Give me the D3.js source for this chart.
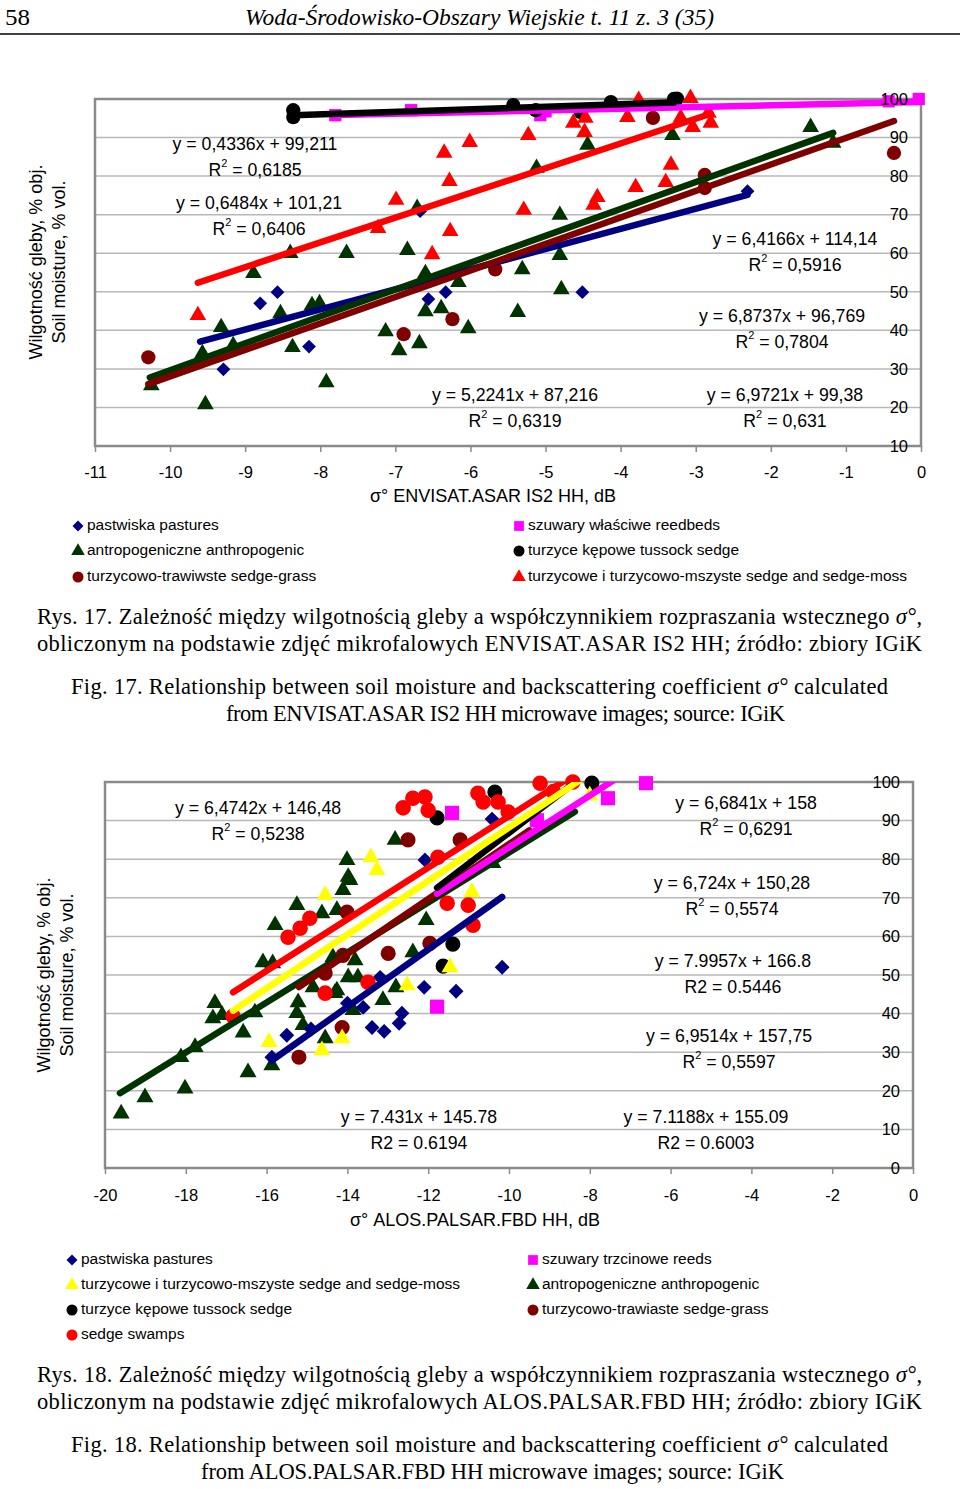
<!DOCTYPE html>
<html>
<head>
<meta charset="utf-8">
<script src="https://cdn.jsdelivr.net/npm/d3@7"></script>
<style>
  body { margin: 0; background: #fff; }
  svg text { font-family: "Liberation Sans", Arial, sans-serif; fill: #000; }
  svg text.serif { font-family: "Liberation Serif", "Times New Roman", serif; }
</style>
</head>
<body>
<svg id="page" width="960" height="1489"></svg>
<script>
// ---------- Fig. 17 (ENVISAT) data: [sigma0 dB, soil moisture %] ----------
const topXTicks = [-11, -10, -9, -8, -7, -6, -5, -4, -3, -2, -1, 0];
const topYTicks = [10, 20, 30, 40, 50, 60, 70, 80, 90, 100];

const topPastures = [
  [-8.8, 47.0], [-8.57, 49.9], [-9.29, 29.9], [-8.15, 35.8], [-6.56, 48.1],
  [-6.33, 49.9], [-4.51, 49.9], [-6.67, 70.9], [-2.31, 76.1]
];
const topAnthropogenic = [
  [-8.4, 60.0], [-7.65, 60.0], [-6.84, 60.8], [-6.71, 71.7], [-8.89, 54.8],
  [-9.32, 40.8], [-9.57, 34.0], [-9.16, 36.1], [-8.53, 44.4], [-8.37, 35.6],
  [-8.11, 46.5], [-8.01, 47.0], [-7.92, 26.5], [-10.25, 25.7], [-9.53, 20.8],
  [-7.13, 39.7], [-6.95, 34.8], [-6.68, 36.6], [-6.6, 44.9], [-6.39, 45.7],
  [-6.6, 54.8], [-6.16, 52.5], [-6.03, 40.5], [-5.31, 55.8], [-4.81, 59.5],
  [-4.79, 50.6], [-5.37, 44.7], [-5.12, 82.1], [-4.81, 69.9], [-4.44, 88.1],
  [-3.31, 90.6], [-1.47, 92.7], [-1.17, 88.6]
];
const topSedgeGrass = [
  [-10.29, 33.0], [-6.89, 39.0], [-6.24, 42.9], [-5.67, 55.8], [-2.88, 80.3],
  [-2.88, 76.9], [-3.57, 95.1], [-0.36, 86.0]
];
const topReedbeds = [
  [-7.8, 95.8], [-6.79, 97.1], [-5.07, 95.8], [-5.0, 96.8], [-0.43, 99.4], [-0.03, 100.0]
];
const topTussock = [
  [-8.36, 97.1], [-8.36, 95.3], [-5.43, 98.4], [-5.13, 97.1], [-4.53, 96.6],
  [-4.13, 99.2], [-3.29, 100.0], [-3.25, 100.1]
];
const topSedgeMoss = [
  [-6.01, 88.8], [-6.35, 86.0], [-6.28, 78.7], [-6.99, 73.8], [-7.23, 66.5],
  [-6.27, 65.7], [-6.51, 59.7], [-9.63, 43.9], [-5.23, 90.6], [-5.29, 71.2],
  [-4.63, 93.8], [-4.47, 95.1], [-4.48, 91.4], [-3.91, 95.3], [-3.76, 99.7],
  [-3.2, 95.1], [-3.07, 100.2], [-3.04, 92.7], [-2.8, 93.8], [-2.83, 96.4],
  [-4.31, 74.5], [-4.36, 72.5], [-3.8, 77.1], [-3.4, 78.4], [-3.33, 82.9]
];

// trendlines: slope, intercept, x-range (same order as topSeriesNames)
const topSeriesNames = ["pastures", "anthropogenic", "sedgeGrass", "reedbeds", "tussock", "sedgeMoss"];
const topTrendSlope = [5.2241, 6.9721, 6.8737, 0.4336, 0.6484, 6.4166];
const topTrendIntercept = [87.216, 99.38, 96.769, 99.211, 101.21, 114.14];
const topTrendFrom = [-9.6, -10.27, -10.29, -7.8, -8.36, -9.63];
const topTrendTo = [-2.31, -1.17, -0.36, -0.03, -3.29, -2.8];

const topEquations = [
  ["y = 0,4336x + 99,211", "0,6185"],
  ["y = 0,6484x + 101,21", "0,6406"],
  ["y = 6,4166x + 114,14", "0,5916"],
  ["y = 6,8737x + 96,769", "0,7804"],
  ["y = 5,2241x + 87,216", "0,6319"],
  ["y = 6,9721x + 99,38", "0,631"]
];

// ---------- Fig. 18 (ALOS PALSAR) data ----------
const botXTicks = [-20, -18, -16, -14, -12, -10, -8, -6, -4, -2, 0];
const botYTicks = [0, 10, 20, 30, 40, 50, 60, 70, 80, 90, 100];

const botPastures = [
  [-10.17, 52.0], [-12.1, 46.8], [-11.31, 45.8], [-12.65, 40.1], [-12.72, 37.5],
  [-13.39, 36.4], [-13.09, 35.4], [-13.61, 41.6], [-13.19, 49.4], [-15.5, 34.4],
  [-15.87, 28.7], [-14.0, 42.7], [-10.42, 90.4], [-12.08, 79.8], [-14.9, 36.0]
];
const botSedgeMoss = [
  [-13.42, 80.5], [-13.27, 77.2], [-14.55, 70.7], [-10.92, 71.5], [-12.52, 47.3],
  [-15.94, 32.6], [-14.63, 30.5], [-14.13, 33.6], [-11.46, 52.0], [-8.0, 96.5]
];
const botTussock = [
  [-10.35, 97.4], [-11.78, 90.7], [-11.39, 58.0], [-11.63, 52.3], [-7.95, 99.7]
];
const botSedgeSwamps = [
  [-12.62, 93.3], [-12.38, 95.8], [-12.08, 96.1], [-12.0, 92.7], [-10.77, 97.1],
  [-10.64, 94.8], [-10.27, 94.8], [-10.02, 92.2], [-11.76, 80.5], [-14.93, 64.7],
  [-15.17, 62.1], [-15.47, 59.8], [-11.53, 68.6], [-11.01, 68.1], [-10.89, 62.9],
  [-9.23, 99.7], [-8.42, 100.0], [-14.55, 45.3], [-13.49, 48.1], [-16.83, 39.3],
  [-8.9, 97.5]
];
const botReeds = [
  [-11.78, 41.8], [-11.41, 92.0], [-7.55, 95.8], [-6.61, 99.7], [-9.31, 90.1]
];
const botAnthropogenic = [
  [-19.6, 14.1], [-19.01, 18.3], [-18.02, 20.6], [-18.12, 28.7], [-17.77, 31.3],
  [-17.33, 38.8], [-17.28, 42.7], [-17.1, 39.6], [-16.58, 35.1], [-16.46, 24.8],
  [-15.87, 26.6], [-16.09, 53.3], [-16.29, 40.3], [-15.22, 42.9], [-15.25, 40.1],
  [-15.1, 37.0], [-14.55, 33.6], [-14.85, 46.8], [-14.31, 45.3], [-13.98, 49.4],
  [-13.74, 49.4], [-13.81, 53.8], [-13.12, 43.5], [-12.8, 46.8], [-13.86, 40.9],
  [-14.36, 54.6], [-14.26, 46.0], [-15.79, 62.9], [-15.25, 68.1], [-14.63, 66.0],
  [-14.26, 66.8], [-14.11, 72.0], [-13.94, 74.6], [-14.01, 79.8], [-13.98, 75.4],
  [-12.82, 85.0], [-12.38, 55.9], [-12.05, 64.2], [-10.4, 79.0], [-15.85, 53.0]
];
const botSedgeGrass = [
  [-12.5, 85.0], [-11.21, 85.0], [-14.01, 66.3], [-12.99, 55.6], [-11.96, 58.2],
  [-14.13, 36.4], [-15.2, 28.7], [-14.55, 50.5], [-14.11, 55.1]
];

const botSeriesNames = ["anthropogenic", "pastures", "sedgeGrass", "reeds", "tussock", "sedgeMoss", "sedgeSwamps"];
const botTrendSlope = [6.4742, 7.431, 7.1188, 6.724, 7.9957, 6.9514, 6.6841];
const botTrendIntercept = [146.48, 145.78, 155.09, 150.28, 166.8, 157.75, 158];
const botTrendFrom = [-19.63, -15.87, -15.2, -11.78, -11.78, -16.83, -16.83];
const botTrendTo = [-8.37, -10.17, -9.5, -6.61, -7.95, -8.0, -8.42];

const botEquations = [
  ["y = 6,4742x + 146,48", "0,5238", true],
  ["y = 6,6841x + 158", "0,6291", true],
  ["y = 6,724x + 150,28", "0,5574", true],
  ["y = 7.9957x + 166.8", "0.5446", false],
  ["y = 6,9514x + 157,75", "0,5597", true],
  ["y = 7.431x + 145.78", "0.6194", false],
  ["y = 7.1188x + 155.09", "0.6003", false]
];

// ---------- styles ----------
const NAVY = "#000080", DKGREEN = "#003300", MAROON = "#800000",
      MAGENTA = "#ff00ff", BLACK = "#000000", RED = "#ff0000", YELLOW = "#ffff00";

const svg = d3.select("#page");

function markerPath(shape, size) {
  if (shape === "diamond") return d3.symbol(d3.symbolSquare, size)();
  if (shape === "triangle") return d3.symbol(d3.symbolTriangle, size)();
  if (shape === "square") return d3.symbol(d3.symbolSquare, size)();
  return d3.symbol(d3.symbolCircle, size)();
}

function drawMarkers(g, data, x, y, shape, color, size) {
  g.selectAll(null)
    .data(data)
    .enter()
    .append("path")
    .attr("d", markerPath(shape, size))
    .attr("transform", d => `translate(${x(d[0])},${y(d[1])})` + (shape === "diamond" ? " rotate(45)" : ""))
    .attr("fill", color);
}

function drawTrend(g, slope, intercept, from, to, x, y, color) {
  const pts = [from, to].map(v => [v, slope * v + intercept]);
  g.append("path")
    .datum(pts)
    .attr("fill", "none")
    .attr("stroke", color)
    .attr("stroke-width", 6.5)
    .attr("stroke-linecap", "round")
    .attr("d", d3.line().x(d => x(d[0])).y(d => y(d[1])));
}

function equationLabel(cx, cy, eq, r2, sup) {
  svg.append("text")
    .attr("x", cx).attr("y", cy)
    .attr("text-anchor", "middle")
    .attr("dominant-baseline", "middle")
    .style("font-size", "17.7px")
    .text(eq);
  const t = svg.append("text")
    .attr("x", cx).attr("y", cy + 26)
    .attr("text-anchor", "middle")
    .attr("dominant-baseline", "middle")
    .style("font-size", "17.7px");
  if (sup) {
    t.append("tspan").text("R");
    t.append("tspan").attr("dy", -7).style("font-size", "11px").text("2");
    t.append("tspan").attr("dy", 7).text(" = " + r2);
  } else {
    t.text("R2 = " + r2);
  }
}

function drawFrame(x, y, yTicks, box) {
  const g = svg.append("g");
  // gridlines
  g.selectAll(null)
    .data(yTicks.filter(d => d !== y.domain()[0] && d !== y.domain()[1]))
    .enter()
    .append("line")
    .attr("x1", box.left).attr("x2", box.right)
    .attr("y1", d => y(d)).attr("y2", d => y(d))
    .attr("stroke", "#b8b8b8")
    .attr("stroke-width", 1.5);
  g.append("rect")
    .attr("x", box.left).attr("y", box.top)
    .attr("width", box.right - box.left).attr("height", box.bottom - box.top)
    .attr("fill", "none")
    .attr("stroke", "#8a8a8a")
    .attr("stroke-width", 2.5);
}

function drawAxes(x, y, xTicks, yTicks, box, labelPad) {
  // x axis
  const xa = svg.append("g")
    .attr("transform", `translate(0,${box.bottom})`)
    .call(d3.axisBottom(x).tickValues(xTicks).tickSize(6).tickPadding(labelPad).tickFormat(d => String(d)));
  xa.select(".domain").remove();
  xa.selectAll("line").attr("stroke", "#8a8a8a").attr("stroke-width", 1.5);
  xa.selectAll("text").style("font-size", "16.5px").attr("fill", "#000");

  // y axis labels on the right, inside the plot
  const ya = svg.append("g")
    .attr("transform", `translate(${box.right},0)`)
    .call(d3.axisLeft(y).tickValues(yTicks).tickSize(0).tickPadding(13).tickFormat(d => String(d)));
  ya.select(".domain").remove();
  ya.selectAll("text").style("font-size", "16.5px").attr("fill", "#000");
}

function legendItem(mx, ty, shape, color, label, size) {
  svg.append("path")
    .attr("d", markerPath(shape, size))
    .attr("transform", `translate(${mx},${ty})` + (shape === "diamond" ? " rotate(45)" : ""))
    .attr("fill", color);
  svg.append("text")
    .attr("x", mx + 9).attr("y", ty)
    .attr("dominant-baseline", "middle")
    .style("font-size", "15.5px")
    .text(label);
}

function yTitle(cx, cy) {
  svg.append("text")
    .attr("transform", `translate(${cx},${cy}) rotate(-90)`)
    .attr("text-anchor", "middle")
    .attr("dominant-baseline", "middle")
    .style("font-size", "18px")
    .text("Wilgotność gleby, % obj.");
  svg.append("text")
    .attr("transform", `translate(${cx + 23},${cy}) rotate(-90)`)
    .attr("text-anchor", "middle")
    .attr("dominant-baseline", "middle")
    .style("font-size", "18px")
    .text("Soil moisture, % vol.");
}

function captionLine(x, baseline, width, parts) {
  const t = svg.append("text")
    .attr("class", "serif")
    .attr("x", x).attr("y", baseline)
    .attr("textLength", width)
    .attr("lengthAdjust", "spacing")
    .style("font-size", "22.5px");
  parts.forEach(p => {
    const s = t.append("tspan").text(p[0]);
    if (p[1]) s.style("font-style", "italic");
  });
}

// ---------- page header ----------
svg.append("text").attr("class", "serif")
  .attr("x", 5).attr("y", 25)
  .attr("textLength", 25)
  .attr("lengthAdjust", "spacingAndGlyphs")
  .style("font-size", "24px")
  .text("58");
svg.append("text").attr("class", "serif")
  .attr("x", 245).attr("y", 25)
  .attr("textLength", 469)
  .attr("lengthAdjust", "spacingAndGlyphs")
  .style("font-size", "24px")
  .style("font-style", "italic")
  .text("Woda-Środowisko-Obszary Wiejskie t. 11 z. 3 (35)");
svg.append("line")
  .attr("x1", 0).attr("x2", 960).attr("y1", 34).attr("y2", 34)
  .attr("stroke", "#000").attr("stroke-width", 1.5);

// ---------- Fig. 17 chart ----------
const topBox = { left: 95, right: 921, top: 99, bottom: 446 };
const xTop = d3.scaleLinear().domain([-11, 0]).range([topBox.left, topBox.right]);
const yTop = d3.scaleLinear().domain([10, 100]).range([topBox.bottom, topBox.top]);
drawFrame(xTop, yTop, topYTicks, topBox);

const topData = [topPastures, topAnthropogenic, topSedgeGrass, topReedbeds, topTussock, topSedgeMoss];
const topShapes = ["diamond", "triangle", "circle", "square", "circle", "triangle"];
const topColors = [NAVY, DKGREEN, MAROON, MAGENTA, BLACK, RED];
const topSizes = [95, 120, 160, 150, 160, 120];

const topMarks = svg.append("g");
topData.forEach((d, i) => drawMarkers(topMarks, d, xTop, yTop, topShapes[i], topColors[i], topSizes[i]));

svg.append("clipPath").attr("id", "clipTop")
  .append("rect").attr("x", topBox.left).attr("y", topBox.top - 3)
  .attr("width", topBox.right - topBox.left).attr("height", topBox.bottom - topBox.top + 3);
const topLines = svg.append("g").attr("clip-path", "url(#clipTop)");
topSeriesNames.forEach((n, i) => drawTrend(topLines, topTrendSlope[i], topTrendIntercept[i],
  topTrendFrom[i], topTrendTo[i], xTop, yTop, topColors[i]));

drawAxes(xTop, yTop, topXTicks, topYTicks, topBox, 14);

const topEqPos = [[255, 145], [259, 204], [795, 240], [782, 317], [515, 396], [785, 396]];
topEquations.forEach((e, i) => equationLabel(topEqPos[i][0], topEqPos[i][1], e[0], e[1], true));

svg.append("text")
  .attr("x", 493).attr("y", 497)
  .attr("text-anchor", "middle")
  .attr("dominant-baseline", "middle")
  .style("font-size", "18px")
  .text("σ° ENVISAT.ASAR IS2 HH, dB");
yTitle(37, 262);

legendItem(78, 526, "diamond", NAVY, "pastwiska pastures", 60);
legendItem(78, 551, "triangle", DKGREEN, "antropogeniczne anthropogenic", 80);
legendItem(78, 577, "circle", MAROON, "turzycowo-trawiwste sedge-grass", 95);
legendItem(519, 526, "square", MAGENTA, "szuwary właściwe reedbeds", 95);
legendItem(519, 551, "circle", BLACK, "turzyce kępowe tussock sedge", 95);
legendItem(519, 577, "triangle", RED, "turzycowe i turzycowo-mszyste sedge and sedge-moss", 80);

captionLine(37, 624, 885, [["Rys. 17. Zależność między wilgotnością gleby a współczynnikiem rozpraszania wstecznego "], ["σ°", true], [","]]);
captionLine(37, 651, 885, [["obliczonym na podstawie zdjęć mikrofalowych ENVISAT.ASAR IS2 HH; źródło: zbiory IGiK"]]);
captionLine(71, 694, 817, [["Fig. 17. Relationship between soil moisture and backscattering coefficient "], ["σ°", true], [" calculated"]]);
captionLine(226, 721, 559, [["from ENVISAT.ASAR IS2 HH microwave images; source: IGiK"]]);

// ---------- Fig. 18 chart ----------
const botBox = { left: 105, right: 913, top: 782, bottom: 1168 };
const xBot = d3.scaleLinear().domain([-20, 0]).range([botBox.left, botBox.right]);
const yBot = d3.scaleLinear().domain([0, 100]).range([botBox.bottom, botBox.top]);
drawFrame(xBot, yBot, botYTicks, botBox);

const botData = [botAnthropogenic, botPastures, botSedgeGrass, botReeds, botTussock, botSedgeMoss, botSedgeSwamps];
const botShapes = ["triangle", "diamond", "circle", "square", "circle", "triangle", "circle"];
const botColors = [DKGREEN, NAVY, MAROON, MAGENTA, BLACK, YELLOW, RED];
const botSizes = [125, 110, 180, 200, 180, 125, 190];

const botMarks = svg.append("g");
botData.forEach((d, i) => drawMarkers(botMarks, d, xBot, yBot, botShapes[i], botColors[i], botSizes[i]));

svg.append("clipPath").attr("id", "clipBot")
  .append("rect").attr("x", botBox.left).attr("y", botBox.top)
  .attr("width", botBox.right - botBox.left).attr("height", botBox.bottom - botBox.top);
const botLines = svg.append("g").attr("clip-path", "url(#clipBot)");
botSeriesNames.forEach((n, i) => drawTrend(botLines, botTrendSlope[i], botTrendIntercept[i],
  botTrendFrom[i], botTrendTo[i], xBot, yBot, botColors[i]));

drawAxes(xBot, yBot, botXTicks, botYTicks, botBox, 15);

const botEqPos = [[258, 809], [746, 804], [732, 884], [733, 962], [729, 1037], [419, 1118], [706, 1118]];
botEquations.forEach((e, i) => equationLabel(botEqPos[i][0], botEqPos[i][1], e[0], e[1], e[2]));

svg.append("text")
  .attr("x", 475).attr("y", 1221)
  .attr("text-anchor", "middle")
  .attr("dominant-baseline", "middle")
  .style("font-size", "18px")
  .text("σ° ALOS.PALSAR.FBD HH, dB");
yTitle(45, 975);

legendItem(72, 1260, "diamond", NAVY, "pastwiska pastures", 60);
legendItem(72, 1285, "triangle", YELLOW, "turzycowe i turzycowo-mszyste sedge and sedge-moss", 80);
legendItem(72, 1310, "circle", BLACK, "turzyce kępowe tussock sedge", 95);
legendItem(72, 1335, "circle", RED, "sedge swamps", 95);
legendItem(533, 1260, "square", MAGENTA, "szuwary trzcinowe reeds", 95);
legendItem(533, 1285, "triangle", DKGREEN, "antropogeniczne anthropogenic", 80);
legendItem(533, 1310, "circle", MAROON, "turzycowo-trawiaste sedge-grass", 95);

captionLine(37, 1382, 885, [["Rys. 18. Zależność między wilgotnością gleby a współczynnikiem rozpraszania wstecznego "], ["σ°", true], [","]]);
captionLine(37, 1409, 885, [["obliczonym na podstawie zdjęć mikrofalowych ALOS.PALSAR.FBD HH; źródło: zbiory IGiK"]]);
captionLine(71, 1452, 817, [["Fig. 18. Relationship between soil moisture and backscattering coefficient "], ["σ°", true], [" calculated"]]);
captionLine(201, 1479, 583, [["from ALOS.PALSAR.FBD HH microwave images; source: IGiK"]]);
</script>
</body>
</html>
